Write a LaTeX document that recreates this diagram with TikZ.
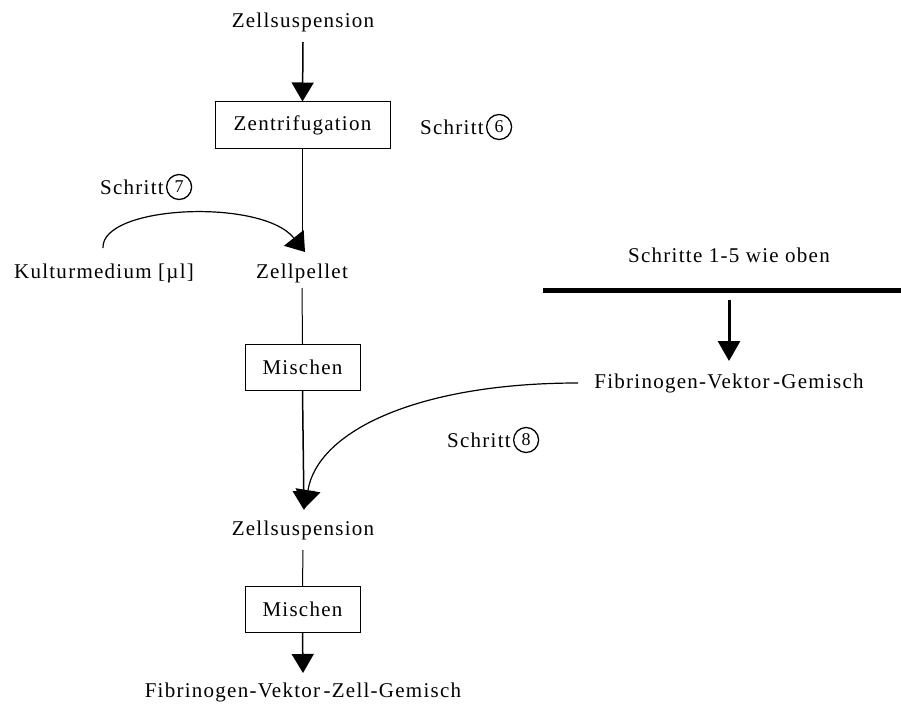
\documentclass[tikz,border=0pt]{standalone}
\usepackage{fontspec}
\setmainfont{Liberation Serif}[LetterSpace=6]
\usetikzlibrary{arrows.meta}
\begin{document}
\begin{tikzpicture}[x=1pt,y=-1pt,
  font=\fontsize{21}{25}\selectfont,
  lbl/.style={inner sep=0pt, anchor=center},
  procbox/.style={draw, line width=1pt, inner sep=0pt, minimum height=46pt},
  stepno/.style={draw, circle, line width=1.3pt, inner sep=0pt, minimum size=25pt, font=\fontsize{18}{20}\selectfont},
  flow/.style={line width=1.5pt, -{Triangle[width=22pt,length=19pt]}},
  plain/.style={line width=1pt},
  curvedflow/.style={line width=1.2pt, -{Triangle[width=25pt,length=18pt]}}]
\useasboundingbox (0,0) rectangle (901,706);

% main column
\node[lbl] (susp1) at (303,22) {Zellsuspension};
\node[procbox, minimum width=175pt] (zentr) at (302.5,125) {Zentrifugation};
\node[lbl] (pellet) at (302,273) {Zellpellet};
\node[procbox, minimum width=115pt] (misch1) at (302.5,367.5) {Mischen};
\node[lbl] (susp2) at (303,530) {Zellsuspension};
\node[procbox, minimum width=115pt] (misch2) at (302.5,609.5) {Mischen};
\node[lbl] (fvzg) at (303,692) {Fibrinogen-Vektor\,-Zell-Gemisch};

% side inputs
\node[lbl] (kult) at (104,273) {Kulturmedium [µl]};
\node[lbl] (oben) at (729,255) {Schritte 1-5 wie oben};
\node[lbl] (fvg) at (729,383) {Fibrinogen-Vektor\,-Gemisch};

% step labels
\node[lbl, anchor=west] (s6) at (420,127) {Schritt};
\node[stepno, anchor=west] (c6) at ([xshift=2pt]s6.east) {6};
\node[lbl, anchor=west] (s7) at (100,187) {Schritt};
\node[stepno, anchor=west] (c7) at ([xshift=2pt]s7.east) {7};
\node[lbl, anchor=west] (s8) at (447,440) {Schritt};
\node[stepno, anchor=west] (c8) at ([xshift=2pt]s8.east) {8};

% connector end points
\coordinate (pelletIn) at (302.5,246);
\coordinate (suspTip) at (304,510);
\coordinate (endTip) at (303,673);
\coordinate (kultTop) at (103,248);
\coordinate (kultTip) at (305,252);
\coordinate (fvgStart) at (578,383);
\coordinate (fvgEnd) at (305,508);
\coordinate (barL) at (543,290);
\coordinate (barR) at (901,290);
\coordinate (barArrow) at (729,300);
\coordinate (fvgTip) at (729,361);

\draw[flow] (susp1.south |- 0,42) -- (zentr.north);
\draw[line width=1.5pt] (zentr.south) -- (pelletIn);
\draw[plain] (pellet.south |- 0,288) -- (misch1.north);
\draw[flow] (misch1.south) -- (suspTip);
\draw[plain] (susp2.south |- 0,550) -- (misch2.north);
\draw[flow] (misch2.south) -- (endTip);

\draw[curvedflow] (kultTop) .. controls (101,205) and (262,198) .. (kultTip);
\draw[curvedflow] (fvgStart) .. controls (420,383) and (318,430) .. (fvgEnd);

\draw[line width=5pt] (barL) -- (barR);
\draw[line width=3pt, -{Triangle[width=22pt,length=20pt]}] (barArrow) -- (fvgTip);
\end{tikzpicture}
\end{document}
